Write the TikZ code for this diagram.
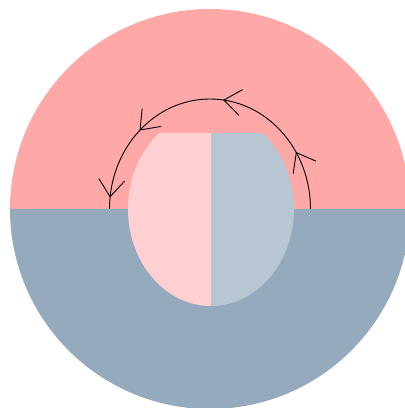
\documentclass[tikz,border=0pt]{standalone}
\usepackage{tikz}
\usetikzlibrary{arrows.meta,decorations.markings}
\definecolor{upper}{RGB}{255,168,168}
\definecolor{lower}{RGB}{149,170,189}
\definecolor{upperlight}{RGB}{255,208,210}
\definecolor{lowerlight}{RGB}{184,197,211}

\begin{document}
\begin{tikzpicture}[x=1pt,y=1pt,
    barb/.tip={Straight Barb[length=17pt,width=26pt]},
    flow/.style={line width=0.9pt,postaction={decorate},
      decoration={markings,
        mark=at position 0.18 with {\arrow{barb}},
        mark=at position 0.46 with {\arrow{barb}},
        mark=at position 0.74 with {\arrow{barb}},
        mark=at position 0.965 with {\arrow{barb}}}}]
    \useasboundingbox (0,0) rectangle (405,408);
    \clip (0,0) rectangle (405,408);
    \coordinate (c) at (210,199);
    \coordinate (core) at (211,199);
    % outer disc, two halves
    \fill[upper] (c) ++(200,0) arc[start angle=0,end angle=180,radius=200] -- cycle;
    \fill[lower] (c) ++(-200,0) arc[start angle=180,end angle=360,radius=200] -- cycle;
    % inner egg, cut flat on top
    \begin{scope}
      \clip (0,0) rectangle (405,274);
      \fill[upperlight] (core) ++(0,-97) arc[start angle=270,end angle=90,x radius=83,y radius=97] -- cycle;
      \fill[lowerlight] (core) ++(0,-97) arc[start angle=-90,end angle=90,x radius=83,y radius=97] -- cycle;
    \end{scope}
    % circulation
    \draw[flow] (c) ++(100.5,0) arc[start angle=0,end angle=180,x radius=100.5,y radius=110];
\end{tikzpicture}
\end{document}
